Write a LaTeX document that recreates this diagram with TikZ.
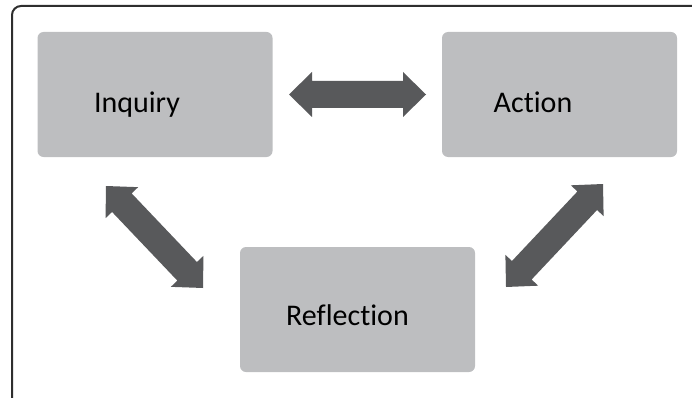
\documentclass[tikz,border=0pt]{standalone}
\usepackage{fontspec}
\setmainfont[Ligatures={NoCommon}]{Carlito}
\usetikzlibrary{calc}
\definecolor{boxgray}{HTML}{BDBEC0}
\definecolor{arrgray}{HTML}{58595B}
\definecolor{framegray}{HTML}{2E2E2E}
\newcommand\dblarr[2]{%
  \coordinate (P1) at ($(#1)!23pt!(#2)$);
  \coordinate (P2) at ($(#2)!23pt!(#1)$);
  \fill[arrgray] (#1) -- ($(P1)!22.5pt!90:(#2)$) -- ($(P1)!13.5pt!90:(#2)$)
    -- ($(P2)!13.5pt!-90:(#1)$) -- ($(P2)!22.5pt!-90:(#1)$) -- (#2)
    -- ($(P2)!22.5pt!90:(#1)$) -- ($(P2)!13.5pt!90:(#1)$)
    -- ($(P1)!13.5pt!-90:(#2)$) -- ($(P1)!22.5pt!-90:(#2)$) -- cycle;
}
\tikzset{
  card/.style={fill=boxgray, rounded corners=6pt, minimum width=235pt, minimum height=125pt, inner sep=0pt},
  lbl/.style={font=\fontsize{30}{36}\selectfont, text=black, inner sep=0pt, anchor=base}
}
\begin{document}
\begin{tikzpicture}[x=1pt,y=-1pt]
  \useasboundingbox (0,0) rectangle (692,398);
  \clip (0,0) rectangle (692,398);
  \draw[framegray, line width=2pt, rounded corners=9pt] (12,404) -- (12,6) -- (700,6);
  \node[card] (inq) at (155,94.5) {};
  \node[card] (act) at (559.5,94.5) {};
  \node[card] (ref) at (357.5,309.5) {};
  \node[lbl] (tinq) at (137,113) {Inquiry};
  \node[lbl] (tact) at (533,113) {Action};
  \node[lbl] (tref) at (347.5,325) {Reflection};
  \coordinate (h1) at (289,94.5);
  \coordinate (h2) at (426,94.5);
  \coordinate (l1) at (106,186);
  \coordinate (l2) at (203,288);
  \coordinate (r1) at (603,184);
  \coordinate (r2) at (506,287);
  \dblarr{h1}{h2}
  \dblarr{l1}{l2}
  \dblarr{r1}{r2}
\end{tikzpicture}
\end{document}
